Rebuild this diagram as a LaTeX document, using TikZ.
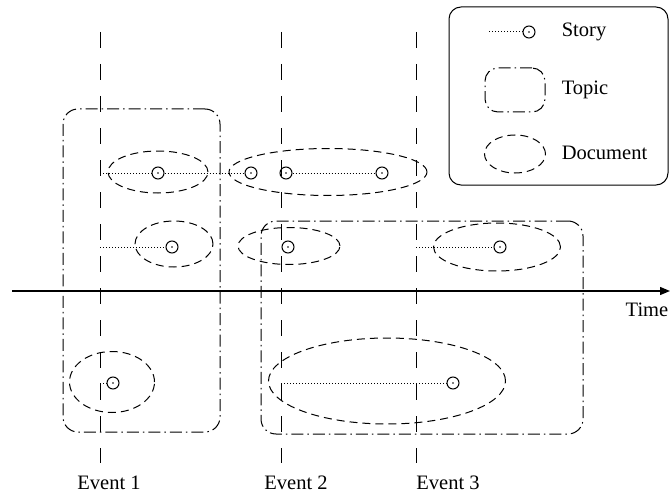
\documentclass[tikz,border=0pt]{standalone}
\usepackage{fontspec}
\setmainfont{Liberation Serif}
\usepackage{tikz}
\usetikzlibrary{arrows.meta}
\usetikzlibrary{shapes.geometric}
\tikzset{
	every path/.style={line width=1pt},
	every node/.style={font=\fontsize{20.5}{24}\selectfont},
	eventline/.style={
		dash pattern=on 16pt off 16pt,
	},
	doc/.style={
		draw,
		ellipse,
		dash pattern=on 8pt off 5pt,
		inner sep=0pt,
	},
	topic/.style={
		draw,
		rectangle,
		rounded corners=15pt,
		dash pattern=on 12pt off 4pt on 1.5pt off 4pt,
		inner sep=0pt,
	},
	story/.style={
		draw,
		circle,
		minimum size=12pt,
		inner sep=0pt,
		path picture={\fill (path picture bounding box.center) circle (0.8pt);},
	},
	link/.style={
		dash pattern=on 1pt off 2pt,
	},
	axis/.style={
		line width=1.3pt,
		-{Triangle[length=10pt,width=8pt]}
	},
}

\begin{document}
\begin{tikzpicture}[x=1pt,y=-1pt]
		\useasboundingbox (0,0) rectangle (670,495);

		% events
		\coordinate (e1top) at (100,32);
		\coordinate (e1bot) at (100,463);
		\coordinate (e2top) at (281,32);
		\coordinate (e2bot) at (281,463);
		\coordinate (e3top) at (416,32);
		\coordinate (e3bot) at (416,463);
		\draw[eventline] 		(e1top) -- (e1bot);
		\draw[eventline] 		(e2top) -- (e2bot);
		\draw[eventline] 		(e3top) -- (e3bot);

		\node 							(ev1) at (109,483) {Event 1};
		\node 							(ev2) at (296,483) {Event 2};
		\node 							(ev3) at (448,483) {Event 3};

		% time axis
		\coordinate (t0) at (12,291);
		\coordinate (t1) at (670,291);
		\draw[axis] 				(t0) -- (t1);
		\node 							(time) at (647,310) {Time};

		% topics
		\node[topic, minimum width=157pt, minimum height=323pt] (top1) at (141.5,270.5) {};
		\node[topic, minimum width=322pt, minimum height=213pt] (top2) at (422,327.5) {};

		% documents
		\node[doc, minimum width=100pt, minimum height=42pt] (d1) at (158,172) {};
		\node[doc, minimum width=198pt, minimum height=47pt] (d2) at (328,172) {};
		\node[doc, minimum width=78pt, minimum height=46pt]  (d3) at (174,244) {};
		\node[doc, minimum width=102pt, minimum height=37pt] (d4) at (289,246) {};
		\node[doc, minimum width=127pt, minimum height=48pt] (d5) at (497,247) {};
		\node[doc, minimum width=85pt, minimum height=61pt]  (d6) at (112,382) {};
		\node[doc, minimum width=237pt, minimum height=86pt] (d7) at (387,381) {};

		% stories
		\node[story] (s1) at (158,173) {};
		\node[story] (s2) at (251,173) {};
		\node[story] (s3) at (286,173) {};
		\node[story] (s4) at (382,173) {};
		\node[story] (s5) at (172,247) {};
		\node[story] (s6) at (288,247) {};
		\node[story] (s7) at (500,247) {};
		\node[story] (s8) at (113,383) {};
		\node[story] (s9) at (453,383) {};

		\coordinate (a1) at (100,173);
		\coordinate (a2) at (100,247);
		\coordinate (a3) at (416,247);
		\coordinate (a4) at (100,383);
		\coordinate (a5) at (281,383);

		\draw[link] 				(a1) -- (s1);
		\draw[link] 				(s1) -- (s2);
		\draw[link] 				(s3) -- (s4);
		\draw[link] 				(a2) -- (s5);
		\draw[link] 				(a3) -- (s7);
		\draw[link] 				(a4) -- (s8);
		\draw[link] 				(a5) -- (s9);

		% legend
		\node[draw, rectangle, rounded corners=12pt, minimum width=219pt, minimum height=178pt] (legend) at (558.5,96) {};
		\coordinate (ls0) at (489,32);
		\node[story] (ls) at (529,32) {};
		\draw[link] 				(ls0) -- (ls);
		\node[topic, minimum width=60pt, minimum height=44pt, rounded corners=13pt] (lt) at (515,90) {};
		\node[doc, minimum width=61pt, minimum height=38pt] (ld) at (515,154) {};
		\node[anchor=west] (lstory) at (558,32) {Story};
		\node[anchor=west] (ltopic) at (558,90) {Topic};
		\node[anchor=west] (ldoc) at (558,153) {Document};

	\end{tikzpicture}
\end{document}
